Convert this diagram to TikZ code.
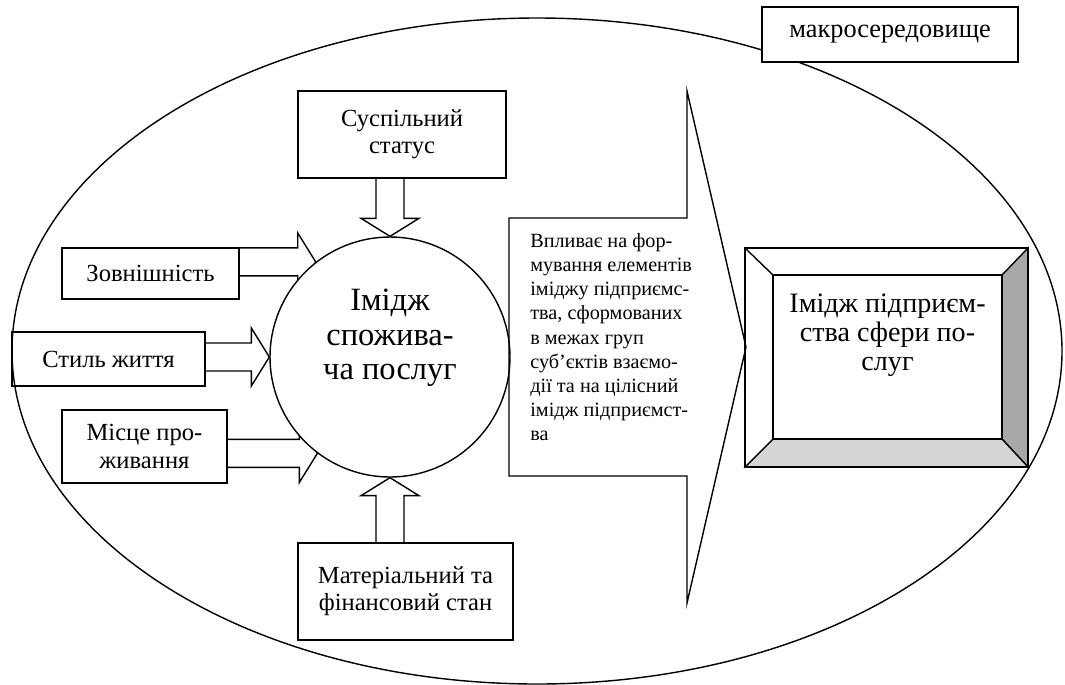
\documentclass[tikz,border=0pt]{standalone}
\usepackage{fontspec}
\setmainfont{Liberation Serif}
\usetikzlibrary{calc}
\pgfdeclarelayer{background}
\pgfsetlayers{background,main}

% wide hollow arrow from #1 to the tip #2
\newcommand{\blockarrow}[2]{%
  \coordinate (hb) at ($(#2)!0.36cm!(#1)$);
  \draw[blockline] ($(#1)!0.28cm!90:(#2)$) -- ($(hb)!0.28cm!90:(#2)$)
    -- ($(hb)!0.58cm!90:(#2)$) -- (#2) -- ($(hb)!0.58cm!-90:(#2)$)
    -- ($(hb)!0.28cm!-90:(#2)$) -- ($(#1)!0.28cm!-90:(#2)$);
}

\begin{document}
\begin{tikzpicture}[x=0.02cm, y=-0.02cm,
    box/.style={draw, line width=0.8pt, align=center, inner sep=2pt,
      font=\fontsize{14}{15.5}\selectfont},
    blockline/.style={line width=0.8pt, line join=miter}]
    \useasboundingbox (0,0) rectangle (1065,684);

    % the macro-environment
    \begin{pgfonlayer}{background}
    \draw[line width=0.8pt] (537,351) ellipse (525 and 333);
    \end{pgfonlayer}
    \node[box, fill=white, minimum width=5.12cm, minimum height=1.1cm,
      font=\fontsize{15}{16}\selectfont] (macro) at (890,34.5) {макросередовище};

    % the consumer and the factors round it
    \node[draw, circle, line width=0.8pt, fill=white, minimum size=4.8cm] (cons) at (390,357) {};
    \node[anchor=north, align=center, inner sep=0, font=\fontsize{18.5}{19.6}\selectfont]
      (conslbl) at (390,289) {Імідж\\спожива-\\ча послуг};

    \node[box, minimum width=4.16cm, minimum height=1.74cm] (status) at (402,134.5) {Суспільний\\статус};
    \node[box, minimum width=3.54cm, minimum height=1.02cm] (zov) at (150.5,273.5) {Зовнішність};
    \node[box, minimum width=3.86cm, minimum height=1.08cm] (styl) at (108.5,359) {Стиль життя};
    \node[box, minimum width=3.3cm, minimum height=1.46cm] (misce) at (144.5,446.5) {Місце про-\\живання};
    \node[box, minimum width=4.3cm, minimum height=1.94cm] (mat) at (405.5,591.5) {Матеріальний та\\фінансовий стан};

    \coordinate (statA) at (status.south -| cons.north);
    \coordinate (zovA) at (zov.east |- cons.128);
    \coordinate (stylA) at (styl.east |- cons.west);
    \coordinate (misceA) at (misce.east |- cons.233);
    \coordinate (matA) at (mat.north -| cons.south);
    \begin{pgfonlayer}{background}
    \blockarrow{statA}{cons.north}
    \blockarrow{zovA}{cons.128}
    \blockarrow{stylA}{cons.west}
    \blockarrow{misceA}{cons.233}
    \blockarrow{matA}{cons.south}
    \end{pgfonlayer}

    % the big arrow with its text
    \draw[blockline] (687,91) -- (687,218) -- (509,218) -- (509,476) -- (687,476)
      -- (687,603) -- (746,347) -- cycle;
    \node[anchor=north west, align=left, inner sep=0, font=\fontsize{11.5}{13.75}\selectfont]
      (vplyv) at (530,233) {Впливає  на фор-\\мування елементів\\іміджу підприємс-\\тва, сформованих\\в межах груп\\суб’єктів взаємо-\\дії та на цілісний\\імідж підприємст-\\ва};

    % the enterprise image as a framed panel
    \draw[line width=0.8pt, fill={rgb,255:red,167;green,168;blue,170}]
      (1002,275) -- (1028,248) -- (1028,467) -- (1002,439) -- cycle;
    \draw[line width=0.8pt, fill={rgb,255:red,212;green,213;blue,215}]
      (745,467) -- (773,439) -- (1002,439) -- (1028,467) -- cycle;
    \draw[line width=0.8pt] (745,248) rectangle (1028,467);
    \draw[line width=0.8pt] (745,248) -- (773,275);
    \draw[line width=0.8pt] (773,275) rectangle (1002,439);
    \node[anchor=north, align=center, inner sep=0, font=\fontsize{16}{16.5}\selectfont]
      (imidzh) at (887.5,294) {Імідж підприєм-\\ства сфери по-\\слуг};
\end{tikzpicture}
\end{document}
